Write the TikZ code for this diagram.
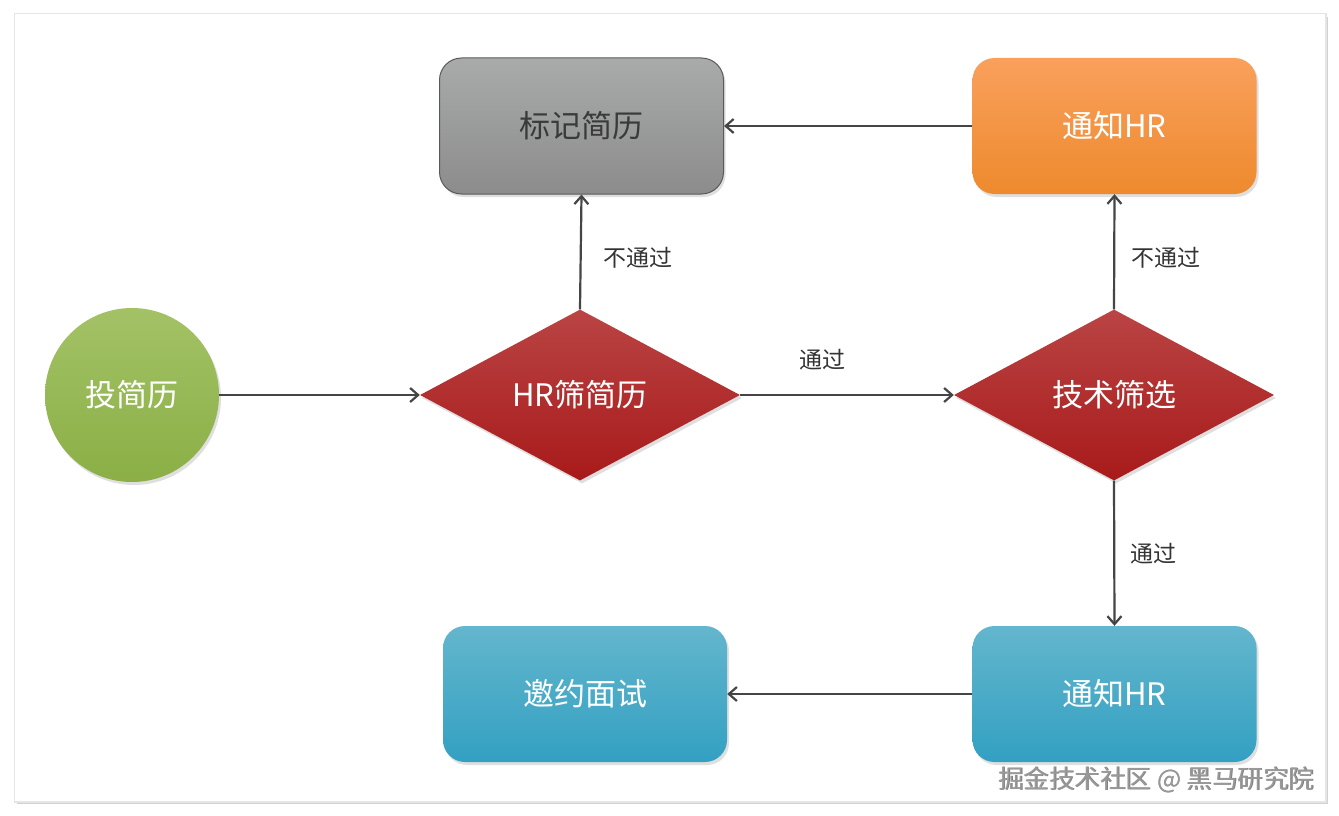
\documentclass[tikz,border=0pt]{standalone}
\usepackage{fontspec}
\setmainfont{Noto Sans CJK SC}
\usetikzlibrary{shapes.geometric,shadows,arrows.meta}
\definecolor{edgec}{HTML}{454545}
\tikzset{
  x=1pt,y=-1pt,
  box/.style={rounded corners=22pt,minimum width=284pt,minimum height=136pt,inner sep=0pt,font=\fontsize{31}{34}\selectfont,text=white,
    drop shadow={shadow xshift=2pt,shadow yshift=-3pt,opacity=0.25}},
  graybox/.style={box,top color=graytop,bottom color=graybot,draw=grayline,line width=1pt,text=graytext},
  orangebox/.style={box,top color=orangetop,bottom color=orangebot},
  bluebox/.style={box,top color=bluetop,bottom color=bluebot},
  decide/.style={diamond,aspect=1.87,minimum width=320pt,minimum height=171pt,inner sep=0pt,top color=redtop,bottom color=redbot,text=white,font=\fontsize{31}{34}\selectfont,
    drop shadow={shadow xshift=2pt,shadow yshift=-3pt,opacity=0.25}},
  startc/.style={circle,minimum size=174pt,inner sep=0pt,top color=greentop,bottom color=greenbot,text=white,font=\fontsize{31}{34}\selectfont,
    drop shadow={shadow xshift=2pt,shadow yshift=-3pt,opacity=0.25}},
  flow/.style={draw=edgec,line width=2.2pt,-{Straight Barb[length=8pt,width=14pt,line width=2.2pt]}},
  lab/.style={font=\fontsize{23}{26}\selectfont,text=black!80}
}
\definecolor{graytop}{HTML}{A9ABAA}
\definecolor{graybot}{HTML}{8B8C8B}
\definecolor{grayline}{HTML}{5A5A5A}
\definecolor{graytext}{HTML}{3A3A3A}
\definecolor{orangetop}{HTML}{F9A05C}
\definecolor{orangebot}{HTML}{EE8A2E}
\definecolor{bluetop}{HTML}{63B6CD}
\definecolor{bluebot}{HTML}{33A0C2}
\definecolor{redtop}{HTML}{BA4444}
\definecolor{redbot}{HTML}{A81A1A}
\definecolor{greentop}{HTML}{A3C266}
\definecolor{greenbot}{HTML}{8BAF46}
\begin{document}
\begin{tikzpicture}
\useasboundingbox[fill=white] (0,0) rectangle (1339,816);
\fill[black!18] (17,17) rectangle (1328,804);
\fill[black!10] (14,13) rectangle (1327,803);
\fill[white] (15,14) rectangle (1325,801);

\node[graybox] (mark) at (581.5,126) {标记简历};
\node[orangebox] (hr1) at (1114.5,126) {通知HR};
\node[startc] (start) at (132,395) {投简历};
\node[decide] (hrs) at (580,395) {HR筛简历};
\node[decide] (tech) at (1114,395) {技术筛选};
\node[bluebox] (hr2) at (1114.5,694) {通知HR};
\node[bluebox] (invite) at (585,694) {邀约面试};

\draw[flow] (start.east) -- (hrs.west);
\draw[flow] (hrs.east) -- node[lab,pos=0.385,above=20pt]{通过} (tech.west);
\draw[flow] (hrs.north) -- node[lab,pos=0.45,right=18pt]{不通过} (mark.south);
\draw[flow] (tech.north) -- node[lab,pos=0.45,right=13pt]{不通过} (hr1.south);
\draw[flow] (hr1.west) -- (mark.east);
\draw[flow] (tech.south) -- node[lab,pos=0.5,right=12pt]{通过} (hr2.north);
\draw[flow] (hr2.west) -- (invite.east);

\node[font=\fontsize{25.5}{28}\selectfont,text=black!50,anchor=east] (wmshade) at (1318.8,780.3) {掘金技术社区 @ 黑马研究院};
\node[font=\fontsize{25.5}{28}\selectfont,text=black!40,anchor=east] (wm) at (1318,779.5) {掘金技术社区 @ 黑马研究院};
\end{tikzpicture}
\end{document}
